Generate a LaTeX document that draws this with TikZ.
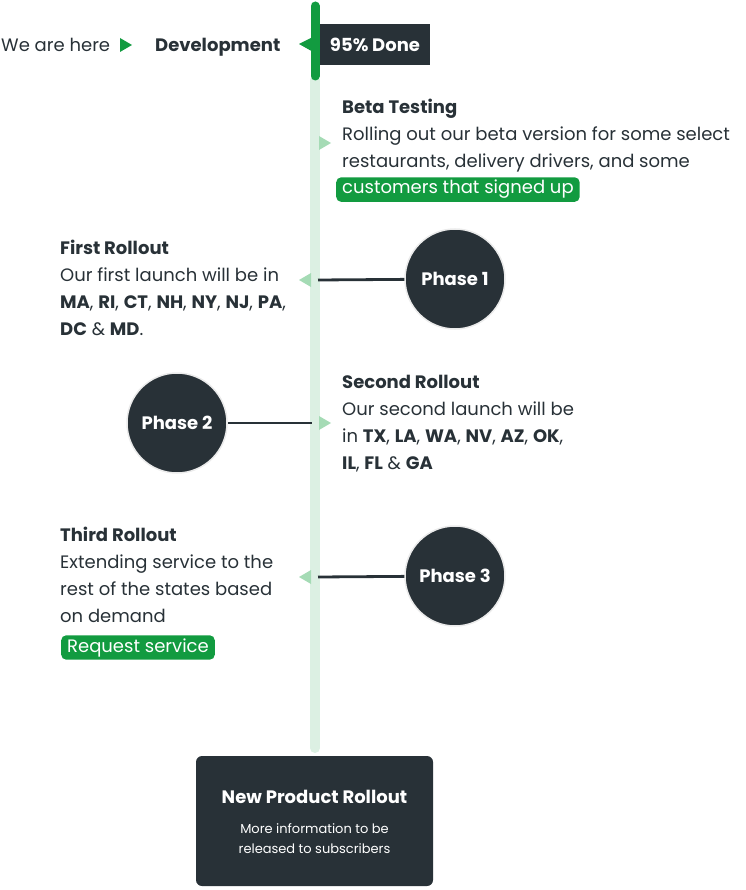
\documentclass[tikz,border=0pt]{standalone}
\usepackage{fontspec}
\setmainfont{Poppins}
\definecolor{ink}{HTML}{283137}
\definecolor{leaf}{HTML}{129B40}
\definecolor{mint}{HTML}{DCF0E3}
\definecolor{sprout}{HTML}{A5DBB5}
\begin{document}
\begin{tikzpicture}[x=1pt,y=-1pt,
  body/.style={anchor=base west, align=left, inner sep=0pt, text=ink, font=\fontsize{18}{27}\selectfont},
  phase/.style={circle, fill=ink, draw=black!8, line width=1.5pt, minimum size=100pt, text=white, font=\fontsize{18}{20}\selectfont\bfseries},
  tag/.style={anchor=base west, fill=leaf, rounded corners=5pt, text=white, inner xsep=6pt, inner ysep=3pt, font=\fontsize{18}{20}\selectfont},
  link/.style={draw=ink, line width=2.8pt}]
\useasboundingbox (0,0) rectangle (745,890);
% timeline
\draw[mint, line width=10pt, line cap=round] (315,80) -- (315,748);
\draw[leaf, line width=9pt, line cap=round] (315,6) -- (315,76);
% top row
\node[body] (here) at (1,52) {We are here};
\fill[leaf] (120,38) -- (132,45) -- (120,52) -- cycle;
\node[body, font=\fontsize{18}{27}\selectfont\bfseries] (dev) at (155,52) {Development};
\node[fill=ink, text=white, minimum width=110pt, minimum height=41pt, font=\fontsize{18}{20}\selectfont\bfseries] (done) at (375,45) {95\% Done};
\fill[leaf] (299,44) -- (315,36) -- (315,53) -- cycle;
% beta
\node[body] (beta) at (342,168) {\textbf{Beta Testing}\\Rolling out our beta version for some select\\restaurants, delivery drivers, and some};
\node[tag] (signup) at (336,194) {customers that signed up};
\fill[sprout] (319,136) -- (331,143) -- (319,150) -- cycle;
% phase 1
\node[body] (first) at (60,335) {\textbf{First Rollout}\\Our first launch will be in\\\textbf{MA}, \textbf{RI}, \textbf{CT}, \textbf{NH}, \textbf{NY}, \textbf{NJ}, \textbf{PA},\\\textbf{DC} \& \textbf{MD}.};
\node[phase] (ph1) at (455,279) {Phase 1};
\coordinate (c1) at (318,280);
\draw[link] (ph1) -- (c1);
\fill[sprout] (311,273) -- (299,280) -- (311,287) -- cycle;
% phase 2
\node[body] (second) at (342,469) {\textbf{Second Rollout}\\Our second launch will be\\in \textbf{TX}, \textbf{LA}, \textbf{WA}, \textbf{NV}, \textbf{AZ}, \textbf{OK},\\\textbf{IL}, \textbf{FL} \& \textbf{GA}};
\node[phase] (ph2) at (177,423) {Phase 2};
\coordinate (c2) at (312,423);
\draw[link] (ph2) -- (c2);
\fill[sprout] (319,416) -- (331,423) -- (319,430) -- cycle;
% phase 3
\node[body] (third) at (60,622) {\textbf{Third Rollout}\\Extending service to the\\rest of the states based\\on demand};
\node[tag] (request) at (61,652) {Request service};
\node[phase] (ph3) at (455,576) {Phase 3};
\coordinate (c3) at (318,577);
\draw[link] (ph3) -- (c3);
\fill[sprout] (311,570) -- (299,577) -- (311,584) -- cycle;
% end box
\node[fill=ink, rounded corners=6pt, minimum width=237pt, minimum height=130pt] (rollout) at (314.5,821) {};
\node[text=white, font=\fontsize{18}{20}\selectfont\bfseries] (rtitle) at (314.5,797) {New Product Rollout};
\node[text=white, align=center, font=\fontsize{13}{20}\selectfont] (rtext) at (314.5,839) {More information to be\\released to subscribers};
\end{tikzpicture}
\end{document}
